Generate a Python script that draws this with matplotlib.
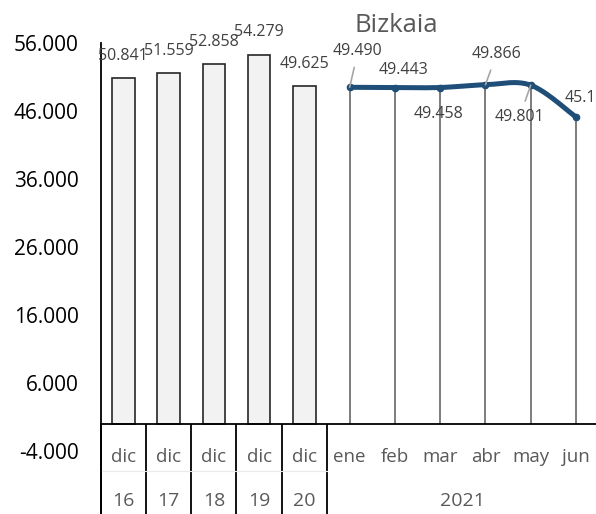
import numpy as np
import matplotlib
matplotlib.use("Agg")
import matplotlib.pyplot as plt

plt.rcParams['font.family'] = ['Open Sans', 'DejaVu Sans']

# ---------------- data ----------------
month_labels = ["dic", "dic", "dic", "dic", "dic", "ene", "feb", "mar", "abr", "may", "jun"]
year_labels = ["16", "17", "18", "19", "20"]
year_group_label = "2021"
bar_values = [50841, 51559, 52858, 54279, 49625]
line_values = [49490, 49443, 49458, 49866, 49801, 45120]
y_ticks = [-4000, 6000, 16000, 26000, 36000, 46000, 56000]
title = "Bizkaia"

# ---------------- layout ----------------
W, H = 596, 514
fig = plt.figure(figsize=(W / 100, H / 100), dpi=100)
left_px, right_px = 100.7, 598.6
top_px, zero_px = 43, 424
ax = fig.add_axes([left_px / W, 0, (right_px - left_px) / W, (H - top_px) / H])
scale = (zero_px - top_px) / 56000.0
ybot = -(H - zero_px) / scale
ax.set_ylim(ybot, 56000)
ax.set_xlim(-0.5, 10.5)


def ypx(px):
    return (zero_px - px) / scale


n_bars = len(bar_values)
bar_x = np.arange(n_bars)
line_x = np.arange(n_bars, n_bars + len(line_values))

# bars
ax.bar(bar_x, bar_values, width=0.5, color="#F2F2F2", edgecolor="#262626",
       linewidth=1.2, zorder=2)
for x, v in zip(bar_x, bar_values):
    ax.annotate(f"{v:,.0f}".replace(",", "."), (x, v), xytext=(0, 16),
                textcoords="offset points", ha="center", va="center",
                fontsize=11.5, color="#404040", zorder=5)

# drop lines
ax.vlines(line_x, 0, line_values, color="#595959", linewidth=1.1, zorder=2)

# smoothed line (Bezier through points, Excel-like smoothing)
P = np.column_stack([np.array(line_x, float), np.array(line_values, float)])
Pe = np.vstack([P[0], P, P[-1]])
curve = []
t = np.linspace(0, 1, 40)[:, None]
for i in range(len(P) - 1):
    p0, p1, p2, p3 = Pe[i], Pe[i + 1], Pe[i + 2], Pe[i + 3]
    c1 = p1 + (p2 - p0) / 6.0
    c2 = p2 - (p3 - p1) / 6.0
    seg = ((1 - t) ** 3) * p1 + 3 * ((1 - t) ** 2) * t * c1 + 3 * (1 - t) * t ** 2 * c2 + t ** 3 * p2
    curve.append(seg)
curve = np.vstack(curve)
ax.plot(curve[:, 0], curve[:, 1], color="#1F4E79", linewidth=3.6,
        solid_capstyle="butt", zorder=4)
ax.plot(line_x, line_values, linestyle="none", marker="o", markersize=4.5,
        color="#1F4E79", zorder=4)

# line labels (offsets in points)
offsets = [(6, 26, True), (6, 13, False), (-1, -19, False), (8, 22, True),
           (-8, -23, True), (-8, 14, False)]
for (x, v), (dx, dy, lead) in zip(zip(line_x, line_values), offsets):
    kw = {}
    if lead:
        kw["arrowprops"] = dict(arrowstyle="-", color="#A6A6A6", lw=1.2,
                                shrinkA=4, shrinkB=0)
    ha = "left" if x == line_x[-1] else "center"
    ax.annotate(f"{v:,.0f}".replace(",", "."), (x, v), xytext=(dx, dy),
                textcoords="offset points", ha=ha, va="center",
                fontsize=11.5, color="#404040", zorder=5, **kw)

# spines
for s in ["top", "right"]:
    ax.spines[s].set_visible(False)
ax.spines["left"].set_color("black")
ax.spines["left"].set_linewidth(1.3)
ax.spines["bottom"].set_position(("data", 0))
ax.spines["bottom"].set_color("black")
ax.spines["bottom"].set_linewidth(1.3)

# y ticks
ax.set_yticks(y_ticks)
ax.set_yticklabels([f"{v:,.0f}".replace(",", ".") for v in y_ticks])
ax.tick_params(axis="y", length=0, pad=16, labelsize=15, labelcolor="black")

# x ticks: category labels + group separators
ax.set_xticks(np.arange(len(month_labels)))
ax.set_xticklabels(month_labels)
ax.tick_params(axis="x", which="major", length=0, pad=17, labelsize=13.5,
               labelcolor="#595959")
ax.set_xticks(np.arange(-0.5, n_bars, 1.0), minor=True)
ax.tick_params(axis="x", which="minor", length=(H - zero_px) * 0.72, width=1.3,
               color="black", direction="out")

# second level labels
for x, lab in zip(bar_x, year_labels):
    ax.text(x, ypx(501), lab, ha="center", va="center", fontsize=14,
            color="#595959")
ax.text((line_x[0] + line_x[-1]) / 2, ypx(501), year_group_label, ha="center",
        va="center", fontsize=14, color="#595959")
ax.plot([-0.5, n_bars - 0.5], [ypx(471), ypx(471)], color="#EBEBEB",
        linewidth=0.8, clip_on=False)

fig.text(396 / W, 1 - 25 / H, title, ha="center", va="center", fontsize=18.5,
         color="#595959")

fig.savefig("out.png", dpi=100)
